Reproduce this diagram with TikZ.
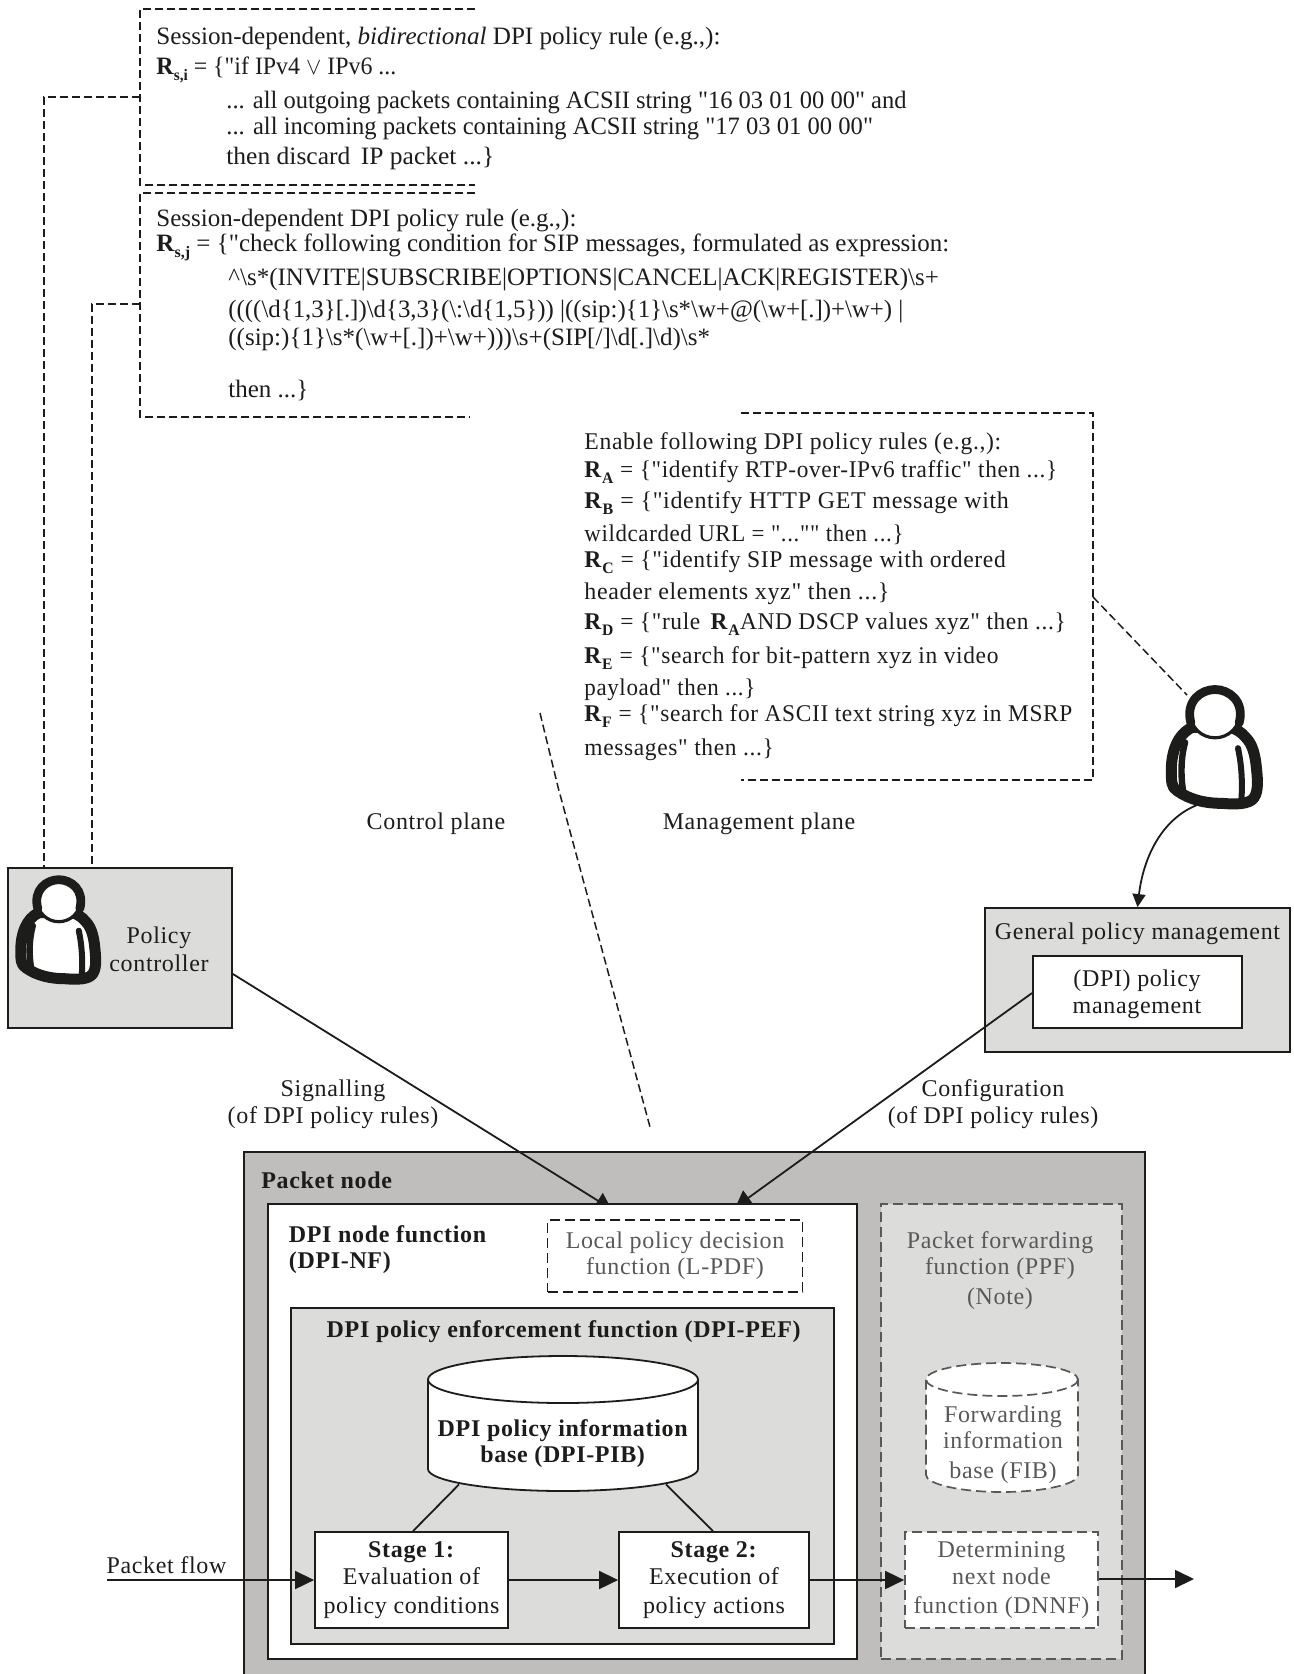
\documentclass[tikz,border=0pt]{standalone}
\usepackage{fontspec}
\usepackage{graphicx}
\setmainfont{Liberation Serif}
\newfontfamily\plainf{Liberation Serif}
\newfontfamily\spc{Liberation Serif}[LetterSpace=2.75]
\usetikzlibrary{arrows.meta,calc}
\pgfdeclarelayer{backl}
\pgfdeclarelayer{midl}
\pgfsetlayers{backl,midl,main}
\definecolor{ink}{HTML}{1C1C1A}
\definecolor{pk}{HTML}{BFBEBC}
\definecolor{lg}{HTML}{DCDCDB}
\definecolor{gtx}{HTML}{58585A}
\newcommand{\bs}{\textbackslash}
\newcommand{\sx}[2]{\scalebox{#1}[1]{#2}}
\newcommand{\Rsub}[1]{\textbf{R}\raisebox{-3pt}{\textbf{\fontsize{8}{8}\selectfont #1}}}
\tikzset{
  x=0.5pt,y=-0.5pt,
  every node/.style={text=ink},
  ln/.style={draw=ink,line width=0.9pt},
  dsh/.style={draw=ink,line width=0.75pt,dash pattern=on 4pt off 2pt},
  thind/.style={draw=ink,line width=0.75pt,dash pattern=on 4pt off 2pt},
  ldsh/.style={draw=ink,line width=0.95pt,dash pattern=on 5pt off 2.5pt},
  gdsh/.style={draw=gtx,line width=0.85pt,dash pattern=on 5pt off 2.5pt},
  rbox/.style={draw=ink,line width=0.9pt,inner sep=0pt,align=center,font=\spc\fontsize{12}{13.6}\selectfont},
  txt/.style={anchor=base west,inner sep=0pt,font=\plainf\fontsize{12.5}{13}\selectfont},
  stxt/.style={anchor=base west,inner sep=0pt,font=\spc\fontsize{12}{13}\selectfont},
  ctr/.style={anchor=base,inner sep=0pt,font=\spc\fontsize{12}{13}\selectfont},
  bigtip/.style={-{Triangle[length=9.5pt,width=9pt]}},
  midtip/.style={-{Triangle[length=8pt,width=9pt]}},
  smalltip/.style={-{Triangle[length=6.5pt,width=6.5pt]}},
  person/.pic={
    \draw[draw=ink,fill=white,line width=5.5pt,line join=round]
      (-20,13) .. controls (-33,19) and (-38,35) .. (-38,50)
      .. controls (-38,60) and (-38,65) .. (-33,68)
      .. controls (-22,76) and (-8,79) .. (6,79)
      .. controls (18,80) and (30,80) .. (34,74)
      .. controls (38,68) and (37,58) .. (36,48)
      .. controls (35,38) and (33,28) .. (27,22)
      .. controls (23,17) and (18,14) .. (13,13) -- cycle;
    \draw[draw=ink,line width=3.2pt,line cap=round] (-26,26) .. controls (-30,40) and (-30,58) .. (-27,72);
    \draw[draw=ink,line width=3pt,line cap=round] (20,31) .. controls (23,45) and (24,60) .. (23,75);
    \draw[draw=ink,fill=white,line width=1.6pt] (0,1) ellipse [x radius=21.5,y radius=21];
    \draw[draw=ink,line width=4.4pt,line cap=round]
      (-21,9) .. controls (-26,-10) and (-12,-20) .. (0,-20) .. controls (12,-20) and (26,-10) .. (21,9);
  }
}
\begin{document}
\begin{tikzpicture}
\clip (0,0) rectangle (1294,1674);
\useasboundingbox (0,0) rectangle (1294,1674);

% ---------- boxes
\begin{pgfonlayer}{backl}
\node[ln,fill=pk,inner sep=0pt,minimum width=450.5pt,minimum height=269pt] (packet) at (694.5,1421) {};
\node[ln,fill=lg,inner sep=0pt,minimum width=112pt,minimum height=80pt] (pc) at (120,948) {};
\node[ln,fill=lg,inner sep=0pt,minimum width=152.5pt,minimum height=72pt] (gpm) at (1137.5,980) {};
\end{pgfonlayer}
\node[rbox,fill=white,minimum width=104.5pt,minimum height=36pt] (dpm) at (1137.5,992) {};
\node[ln,fill=white,inner sep=0pt,minimum width=294.5pt,minimum height=227.5pt] (nf) at (562.5,1431.5) {};
\node[rbox,ldsh,fill=white,text=gtx,minimum width=127.5pt,minimum height=36pt] (lpdf) at (675,1256) {\textcolor{gtx}{Local policy decision}\\[-0.6pt]\textcolor{gtx}{function (L-PDF)}};
\node[ln,fill=lg,inner sep=0pt,minimum width=271.5pt,minimum height=168pt] (pef) at (562.5,1476) {};
\node[rbox,fill=white,minimum width=96.5pt,minimum height=48pt] (s1) at (411.5,1580) {\textbf{Stage 1:}\\Evaluation of\\[1pt]policy conditions};
\node[rbox,fill=white,minimum width=95pt,minimum height=48pt] (s2) at (714,1580) {\textbf{Stage 2:}\\Execution of\\[1pt]policy actions};
\node[gdsh,fill=lg,inner sep=0pt,minimum width=120.5pt,minimum height=227.5pt] (ppf) at (1001.5,1431.5) {};
\node[rbox,gdsh,fill=white,minimum width=96.5pt,minimum height=48pt] (dnnf) at (1001.5,1580) {\textcolor{gtx}{Determining}\\\textcolor{gtx}{next node}\\[1pt]\textcolor{gtx}{function (DNNF)}};

% ---------- cylinders
\node[inner sep=0pt,minimum width=135pt,minimum height=67.5pt] (pib) at (563,1423.5) {};
\draw[ln,fill=white] (428,1379.5) -- (428,1469) .. controls (428,1481) and (488.4,1491) .. (563,1491)
  .. controls (637.6,1491) and (698,1481) .. (698,1469) -- (698,1379.5) -- cycle;
\draw[ln,fill=white] (563,1379.5) ellipse [x radius=135,y radius=23.5];
\draw[gdsh,fill=white] (926,1379.5) -- (926,1475) .. controls (926,1484) and (960,1492) .. (1002,1492)
  .. controls (1044,1492) and (1078,1484) .. (1078,1475) -- (1078,1379.5) -- cycle;
\draw[gdsh,fill=white] (1002,1379.5) ellipse [x radius=76,y radius=16.5];

% ---------- persons
\pic at (58.8,899.7) {person};
\pic[scale=1.15] at (1215,712.5) {person};

% ---------- named connector ends
\coordinate (br1) at (140,97);
\coordinate (br2) at (140,304);
\coordinate (pa) at (44,868);
\coordinate (pb) at (92,868);
\coordinate (br3) at (1093,597);
\coordinate (p1a) at (1187,695);
\coordinate (p1b) at (1197,805);
\coordinate (cp1) at (540,713);
\coordinate (cp2) at (558,787);
\coordinate (cp3) at (650,1127);
\coordinate (flowin) at (107,1580);
\coordinate (flowout) at (1194,1579);

% ---------- dashed brackets
\draw[dsh] (475,9) -- (140,9) -- (140,185) -- (475,185);
\draw[dsh] (475,193) -- (140,193) -- (140,417) -- (470,417);
\draw[dsh] (741,413) -- (1093,413) -- (1093,780) -- (741,780);

% ---------- connectors
\draw[dsh] (br1) -| (pa);
\draw[dsh] (br2) -| (pb);
\draw[thind] (br3) -- (p1a);
\draw[thind] (cp1) -- (cp2) -- (cp3);
\draw[ln,smalltip] (p1b) .. controls (1160,820) and (1143,860) .. (gpm.north);
\begin{pgfonlayer}{midl}
\draw[ln,midtip] ($(pc.east)+(0,26)$) -- ($(nf.north)+(49,6)$);
\draw[ln,midtip] ($(dpm.west)+(0,1)$) -- ($(nf.north)+(173,4)$);
\end{pgfonlayer}
\draw[ln] ($(pib.south)+(-104,-7)$) -- ($(s1.north)+(1.5,0)$);
\draw[ln] ($(pib.south)+(103,-7)$) -- ($(s2.north)+(-1,0)$);
\draw[ln,bigtip] (flowin) -- (s1.west);
\draw[ln,bigtip] (s1.east) -- (s2.west);
\draw[ln,bigtip] (s2.east) -- (dnnf.west);
\draw[ln,bigtip] (dnnf.east |- flowout) -- (flowout);

% ---------- bracket 1 text
\node[txt] (a1) at (156,45) {\sx{1.006}{Session-dependent, \textit{bidirectional} DPI policy rule (e.g.,):}};
\node[txt] (a2) at (156,75) {\sx{0.955}{\Rsub{s,i} = \{"if IPv4 $\vee$ IPv6 ...}};
\node[txt] (a3) at (226,109) {\sx{0.98}{... all outgoing packets containing ACSII string "16 03 01 00 00" and}};
\node[txt] (a4) at (226,135) {\sx{0.984}{... all incoming packets containing ACSII string "17 03 01 00 00"}};
\node[txt] (a5) at (226,165) {\sx{1.02}{then discard\, IP packet ...\}}};
% ---------- bracket 2 text
\node[txt] (b1) at (156,227) {Session-dependent DPI policy rule (e.g.,):};
\node[txt] (b2) at (156,252) {\Rsub{s,j} = \{"check following condition for SIP messages, formulated as expression:};
\node[txt] (b3) at (228,286) {\textasciicircum\bs{}s*(INVITE|SUBSCRIBE|OPTIONS|CANCEL|ACK|REGISTER)\bs{}s+};
\node[txt] (b4) at (228,318) {\sx{0.994}{((((\bs{}d\{1,3\}[.])\bs{}d\{3,3\}(\bs{}:\bs{}d\{1,5\})) |((sip:)\{1\}\bs{}s*\bs{}w+@(\bs{}w+[.])+\bs{}w+) |}};
\node[txt] (b5) at (228,346) {((sip:)\{1\}\bs{}s*(\bs{}w+[.])+\bs{}w+)))\bs{}s+(SIP[/]\bs{}d[.]\bs{}d)\bs{}s*};
\node[txt] (b6) at (228,397) {then ...\}};
% ---------- bracket 3 text
\node[stxt] (c1) at (584,449) {\sx{0.987}{Enable following DPI policy rules (e.g.,):}};
\node[stxt] (c2) at (584,477) {\sx{0.971}{\Rsub{A} = \{"identify RTP-over-IPv6 traffic" then ...\}}};
\node[stxt] (c3) at (584,508) {\Rsub{B} = \{"identify HTTP GET message with};
\node[stxt] (c4) at (584,541) {\sx{0.955}{wildcarded URL = "..."" then ...\}}};
\node[stxt] (c5) at (584,567) {\sx{0.983}{\Rsub{C} = \{"identify SIP message with ordered}};
\node[stxt] (c6) at (584,599) {header elements xyz" then ...\}};
\node[stxt] (c7) at (584,629) {\sx{0.974}{\Rsub{D} = \{"rule\, \Rsub{A}AND DSCP values xyz" then ...\}}};
\node[stxt] (c8) at (584,663) {\sx{0.977}{\Rsub{E} = \{"search for bit-pattern xyz in video}};
\node[stxt] (c9) at (584,695) {\sx{0.958}{payload" then ...\}}};
\node[stxt] (c10) at (584,721) {\sx{0.974}{\Rsub{F} = \{"search for ASCII text string xyz in MSRP}};
\node[stxt] (c11) at (584,755) {\sx{0.978}{messages" then ...\}}};

% ---------- labels
\node[ctr] (l1) at (436,829) {Control plane};
\node[ctr] (l2) at (759,829) {Management plane};
\node[ctr] (l3) at (159,943) {Policy};
\node[ctr] (l4) at (159,971) {controller};
\node[ctr] (l5) at (1137.5,939) {General policy management};
\node[ctr] (l5a) at (1137,986) {(DPI) policy};
\node[ctr] (l5b) at (1137,1013) {management};
\node[ctr] (l6) at (333,1096) {Signalling};
\node[ctr] (l7) at (333,1123) {(of DPI policy rules)};
\node[ctr] (l8) at (993,1096) {Configuration};
\node[ctr] (l9) at (993,1123) {(of DPI policy rules)};
\node[stxt] (l10) at (261,1188) {\textbf{Packet node}};
\node[stxt] (l11) at (288.5,1242) {\textbf{DPI node function}};
\node[stxt] (l12) at (288.5,1268) {\textbf{(DPI-NF)}};
\node[ctr] (l13) at (564,1337.5) {\textbf{DPI policy enforcement function (DPI-PEF)}};
\node[ctr] (l14) at (563,1436) {\textbf{DPI policy information}};
\node[ctr] (l15) at (563,1462) {\textbf{base (DPI-PIB)}};
\node[ctr] (l16) at (1000,1248) {\textcolor{gtx}{Packet forwarding}};
\node[ctr] (l17) at (1000,1274) {\textcolor{gtx}{function (PPF)}};
\node[ctr] (l18) at (1000,1304) {\textcolor{gtx}{(Note)}};
\node[ctr] (l19) at (1003,1422) {\textcolor{gtx}{Forwarding}};
\node[ctr] (l20) at (1003,1448) {\textcolor{gtx}{information}};
\node[ctr] (l21) at (1003,1478) {\textcolor{gtx}{base (FIB)}};
\node[ctr] (l22) at (166.5,1573) {Packet flow};
\end{tikzpicture}
\end{document}
